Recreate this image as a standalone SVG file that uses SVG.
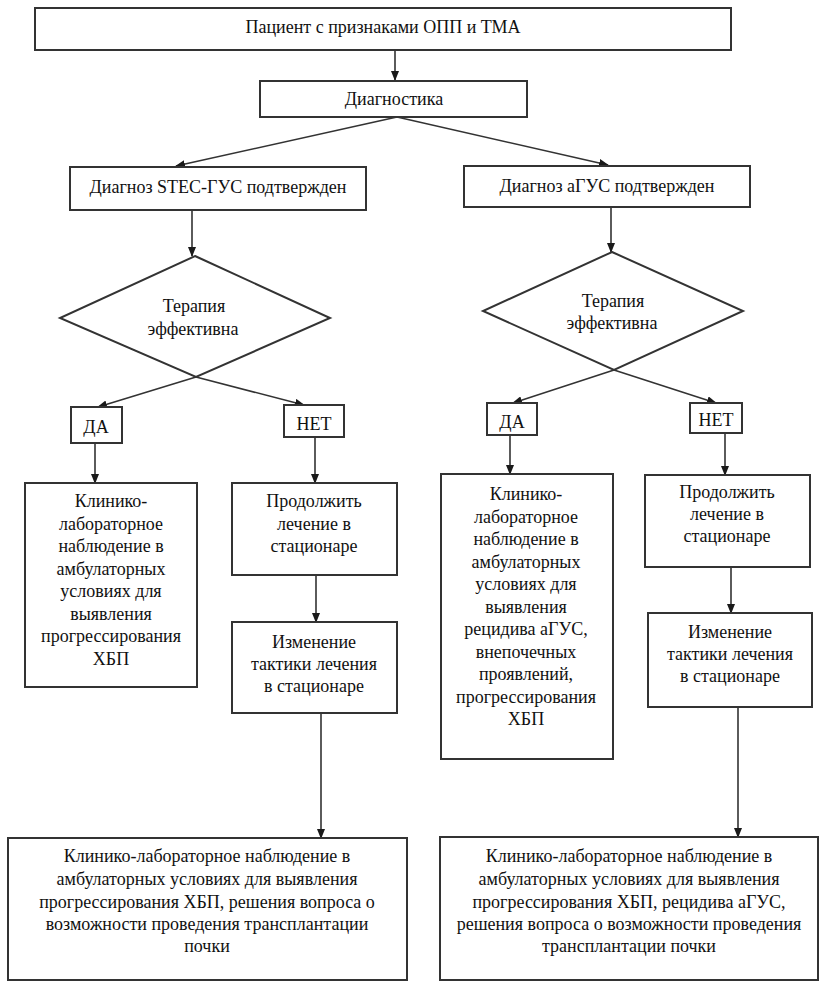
<svg xmlns="http://www.w3.org/2000/svg" width="827" height="988" viewBox="0 0 827 988">
<style>
.b{fill:#fff;stroke:#333;stroke-width:2}
.t{font-size:18px;fill:#111;text-anchor:middle}
.c{fill:none;stroke:#333;stroke-width:1.6}
</style>
<defs>
<marker id="ah" markerWidth="10" markerHeight="8" refX="9" refY="4" orient="auto" markerUnits="userSpaceOnUse">
<path d="M0,0 L10,4 L0,8 Z" fill="#1a1a1a"/>
</marker>
</defs>
<rect width="827" height="988" fill="#fff"/>
<g id="connectors">
<line class="c" x1="395" y1="50" x2="395" y2="80" marker-end="url(#ah)"/>
<line class="c" x1="397" y1="117" x2="176" y2="166" marker-end="url(#ah)"/>
<line class="c" x1="397" y1="117" x2="608" y2="165" marker-end="url(#ah)"/>
<line class="c" x1="192" y1="210" x2="192" y2="256" marker-end="url(#ah)"/>
<line class="c" x1="611" y1="207" x2="611" y2="252" marker-end="url(#ah)"/>
<line class="c" x1="196" y1="377" x2="98" y2="407" marker-end="url(#ah)"/>
<line class="c" x1="196" y1="377" x2="304" y2="405" marker-end="url(#ah)"/>
<line class="c" x1="614" y1="370" x2="513" y2="403" marker-end="url(#ah)"/>
<line class="c" x1="614" y1="370" x2="716" y2="403" marker-end="url(#ah)"/>
<line class="c" x1="95" y1="443" x2="95" y2="483" marker-end="url(#ah)"/>
<line class="c" x1="315" y1="437" x2="315" y2="483" marker-end="url(#ah)"/>
<line class="c" x1="316" y1="575" x2="316" y2="622" marker-end="url(#ah)"/>
<line class="c" x1="321" y1="713" x2="321" y2="838" marker-end="url(#ah)"/>
<line class="c" x1="510" y1="435" x2="510" y2="474" marker-end="url(#ah)"/>
<line class="c" x1="725" y1="433" x2="725" y2="475" marker-end="url(#ah)"/>
<line class="c" x1="731" y1="567" x2="731" y2="613" marker-end="url(#ah)"/>
<line class="c" x1="738" y1="707" x2="738" y2="837" marker-end="url(#ah)"/>
</g>
<g font-family="Liberation Serif, Tinos, DejaVu Serif, serif">
<g id="patient">
<rect class="b" x="35" y="8" width="696" height="42"/>
<text class="t" x="383" y="33">Пациент с признаками ОПП и ТМА</text>
</g>
<g id="diagnostika">
<rect class="b" x="260" y="81" width="267" height="36"/>
<text class="t" x="394" y="105">Диагностика</text>
</g>
<g id="stec">
<rect class="b" x="70" y="167" width="296" height="43"/>
<text class="t" x="218" y="193">Диагноз STEC-ГУС подтвержден</text>
</g>
<g id="agus">
<rect class="b" x="464" y="166" width="286" height="41"/>
<text class="t" x="607" y="192">Диагноз аГУС подтвержден</text>
</g>
<g id="diamond-left">
<polygon class="b" points="195,256 330,318 196,377 60,318"/>
<text class="t" x="194" y="312">Терапия</text>
<text class="t" x="193" y="335">эффективна</text>
</g>
<g id="diamond-right">
<polygon class="b" points="612,252 743,311 614,370 483,311"/>
<text class="t" x="613" y="307">Терапия</text>
<text class="t" x="612" y="329">эффективна</text>
</g>
<g id="da-left">
<rect class="b" x="71" y="407" width="51" height="36"/>
<text class="t" x="96" y="433">ДА</text>
</g>
<g id="net-left">
<rect class="b" x="284" y="405" width="60" height="32"/>
<text class="t" x="314" y="430">НЕТ</text>
</g>
<g id="da-right">
<rect class="b" x="487" y="403" width="50" height="32"/>
<text class="t" x="512" y="428">ДА</text>
</g>
<g id="net-right">
<rect class="b" x="690" y="403" width="52" height="30"/>
<text class="t" x="716" y="426">НЕТ</text>
</g>
<g id="observe-left">
<rect class="b" x="25" y="483" width="172" height="204"/>
<text class="t" x="111" y="507">Клинико-</text>
<text class="t" x="111" y="529.5">лабораторное</text>
<text class="t" x="111" y="552">наблюдение в</text>
<text class="t" x="111" y="574.5">амбулаторных</text>
<text class="t" x="111" y="597">условиях для</text>
<text class="t" x="111" y="619.5">выявления</text>
<text class="t" x="111" y="642">прогрессирования</text>
<text class="t" x="111" y="664.5">ХБП</text>
</g>
<g id="continue-left">
<rect class="b" x="232" y="483" width="165" height="92"/>
<text class="t" x="314" y="507">Продолжить</text>
<text class="t" x="314" y="529.5">лечение в</text>
<text class="t" x="314" y="552">стационаре</text>
</g>
<g id="change-left">
<rect class="b" x="232" y="622" width="165" height="91"/>
<text class="t" x="314" y="648">Изменение</text>
<text class="t" x="314" y="670">тактики лечения</text>
<text class="t" x="314" y="692">в стационаре</text>
</g>
<g id="observe-right">
<rect class="b" x="441" y="474" width="172" height="285"/>
<text class="t" x="526" y="500">Клинико-</text>
<text class="t" x="526" y="522.5">лабораторное</text>
<text class="t" x="526" y="545">наблюдение в</text>
<text class="t" x="526" y="567.5">амбулаторных</text>
<text class="t" x="526" y="590">условиях для</text>
<text class="t" x="526" y="612.5">выявления</text>
<text class="t" x="526" y="635">рецидива аГУС,</text>
<text class="t" x="526" y="657.5">внепочечных</text>
<text class="t" x="526" y="680">проявлений,</text>
<text class="t" x="526" y="702.5">прогрессирования</text>
<text class="t" x="526" y="725">ХБП</text>
</g>
<g id="continue-right">
<rect class="b" x="645" y="475" width="165" height="92"/>
<text class="t" x="727" y="498">Продолжить</text>
<text class="t" x="727" y="520">лечение в</text>
<text class="t" x="727" y="542">стационаре</text>
</g>
<g id="change-right">
<rect class="b" x="648" y="613" width="164" height="94"/>
<text class="t" x="730" y="638">Изменение</text>
<text class="t" x="730" y="660">тактики лечения</text>
<text class="t" x="730" y="682">в стационаре</text>
</g>
<g id="final-left">
<rect class="b" x="8" y="838" width="399" height="142"/>
<text class="t" x="207" y="862">Клинико-лабораторное наблюдение в</text>
<text class="t" x="207" y="885">амбулаторных условиях для выявления</text>
<text class="t" x="207" y="908">прогрессирования ХБП, решения вопроса о</text>
<text class="t" x="207" y="930">возможности проведения трансплантации</text>
<text class="t" x="207" y="952">почки</text>
</g>
<g id="final-right">
<rect class="b" x="440" y="837" width="378" height="143"/>
<text class="t" x="629" y="862">Клинико-лабораторное наблюдение в</text>
<text class="t" x="629" y="885">амбулаторных условиях для выявления</text>
<text class="t" x="629" y="908">прогрессирования ХБП, рецидива аГУС,</text>
<text class="t" x="629" y="930">решения вопроса о возможности проведения</text>
<text class="t" x="629" y="952">трансплантации почки</text>
</g>
</g>
</svg>
